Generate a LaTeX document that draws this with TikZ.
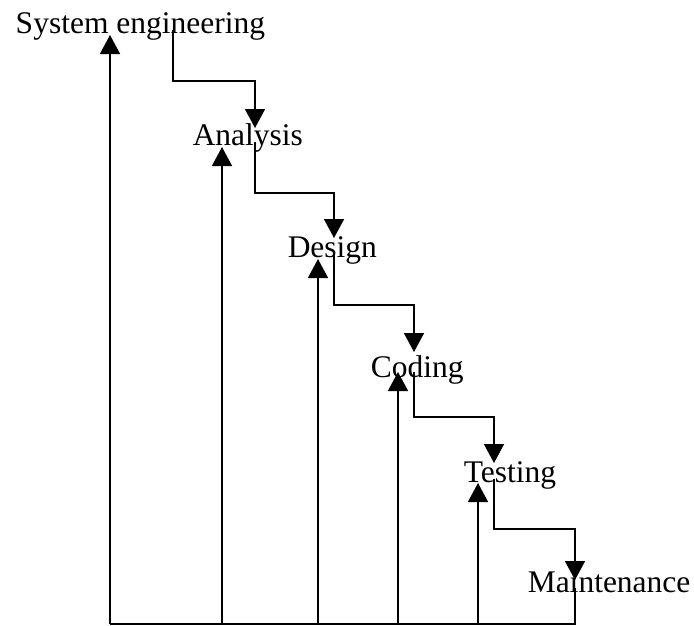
\documentclass[tikz,border=0pt]{standalone}
\usepackage{fontspec}
\setmainfont{Liberation Serif}
\usetikzlibrary{arrows.meta}

\def\B{624}% height of the bottom rail

\begin{document}
\begin{tikzpicture}[x=1pt,y=-1pt,line width=1.5pt,
    >={Triangle[length=19pt,width=20pt]},
    every node/.style={inner sep=0pt,anchor=base west,
      font=\fontsize{31.5}{36}\selectfont}]
  \useasboundingbox (0,0) rectangle (694,625);

  \node (sys) at ( 15,  33) {System engineering};
  \node (ana) at (192, 145) {Analysis};
  \node (des) at (287, 257) {Design};
  \node (cod) at (370, 377) {Coding};
  \node (tes) at (463, 482) {Testing};
  \node (mnt) at (527, 592) {Maintenance};

  % feedback arrows come up from the rail
  \coordinate (bot)   at (0,\B);
  \coordinate (sysUp) at (110, 35);
  \coordinate (anaUp) at (222,147);
  \coordinate (desUp) at (318,259);
  \coordinate (codUp) at (398,372);
  \coordinate (tesUp) at (478,483);

  % steps going down
  \coordinate (sysOut) at (173, 30);
  \coordinate (anaIn)  at (255, 128);
  \coordinate (anaOut) at (255, 142);
  \coordinate (desIn)  at (334,238);
  \coordinate (desOut) at (334,255);
  \coordinate (codIn)  at (414, 352);
  \coordinate (codOut) at (414, 372);
  \coordinate (tesIn)  at (494, 463);
  \coordinate (tesOut) at (494,479);
  \coordinate (mntIn)  at (575, 580);
  \coordinate (mntOut) at (575, 588);

  \draw[->] (sysOut) -- ++(0,51) -| (anaIn);
  \draw[->] (anaOut) -- ++(0,51) -| (desIn);
  \draw[->] (desOut) -- ++(0,50) -| (codIn);
  \draw[->] (codOut) -- ++(0,45) -| (tesIn);
  \draw[->] (tesOut) -- ++(0,50) -| (mntIn);

  \draw (mntOut) |- (sysUp |- bot);
  \draw[->] (sysUp |- bot) -- (sysUp);
  \draw[->] (anaUp |- bot) -- (anaUp);
  \draw[->] (desUp |- bot) -- (desUp);
  \draw[->] (codUp |- bot) -- (codUp);
  \draw[->] (tesUp |- bot) -- (tesUp);
\end{tikzpicture}
\end{document}
